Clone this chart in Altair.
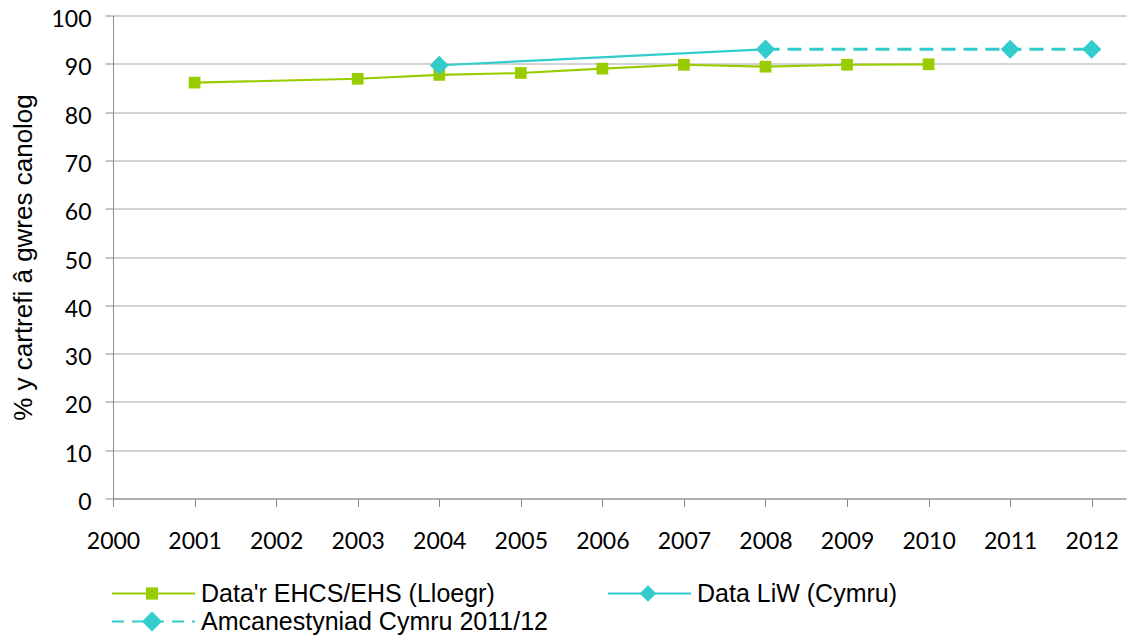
import altair as alt
import pandas as pd

# ---- data ----
years_ehs = [2001, 2003, 2004, 2005, 2006, 2007, 2008, 2009, 2010]
vals_ehs = [86.1, 86.9, 87.7, 88.1, 89.0, 89.8, 89.4, 89.8, 89.9]
years_liw = [2004, 2008]
vals_liw = [89.7, 93.0]
years_proj = [2008, 2011, 2012]
vals_proj = [93.0, 93.0, 93.0]
x_ticks = list(range(2000, 2013))
y_ticks = list(range(0, 101, 10))
series_names = ["Data'r EHCS/EHS (Lloegr)", "Data LiW (Cymru)", "Amcanestyniad Cymru 2011/12"]
y_title = "% y cartrefi â gwres canolog"

GREEN = "#99CC00"
CYAN = "#33CCCC"
W, H = 1013, 483

df_ehs = pd.DataFrame({"year": years_ehs, "value": vals_ehs})
df_liw = pd.DataFrame({"year": years_liw, "value": vals_liw})
df_proj = pd.DataFrame({"year": years_proj, "value": vals_proj})
df_leg = pd.DataFrame({"label": series_names})

xenc = alt.X("year:Q",
             scale=alt.Scale(domain=[2000, 2012.42], nice=False, zero=False),
             axis=alt.Axis(values=x_ticks, format="d", title=None, grid=False,
                           labelFlush=False, labelOverlap=False,
                           tickSize=8, tickColor="#8C8C8C", domainColor="#8C8C8C",
                           labelFont="Lato", labelFontSize=23, labelColor="#000000",
                           labelPadding=24))
yenc = alt.Y("value:Q",
             scale=alt.Scale(domain=[0, 100], nice=False),
             axis=alt.Axis(values=y_ticks, title=y_title, grid=True, gridColor="#A6A6A6",
                           tickSize=8, tickColor="#8C8C8C", domainColor="#8C8C8C",
                           labelFont="Lato", labelFontSize=23, labelColor="#000000",
                           labelPadding=14, labelOffset=4,
                           titleFont="Liberation Sans", titleFontSize=26,
                           titleFontWeight="normal", titleColor="#000000",
                           titleX=-90, titleBaseline="middle"))

line_ehs = alt.Chart(df_ehs).mark_line(color=GREEN, strokeWidth=2.2).encode(x=xenc, y=yenc)
line_liw = alt.Chart(df_liw).mark_line(color=CYAN, strokeWidth=2.2).encode(x=xenc, y=yenc)
line_proj = alt.Chart(df_proj).mark_line(color=CYAN, strokeWidth=3, strokeDash=[14, 8]).encode(x=xenc, y=yenc)
pts_ehs = alt.Chart(df_ehs).mark_point(shape="square", filled=True, size=137, color=GREEN, opacity=1).encode(x=xenc, y=yenc)
pts_liw = alt.Chart(df_liw).mark_point(shape="diamond", filled=True, size=361, color=CYAN, opacity=1).encode(x=xenc, y=yenc)
pts_proj = alt.Chart(df_proj).mark_point(shape="diamond", filled=True, size=361, color=CYAN, opacity=1).encode(x=xenc, y=yenc)

main = alt.layer(line_ehs, line_liw, line_proj, pts_ehs, pts_liw, pts_proj)

# ---- legend (drawn below the plot with its own pixel scales) ----
leg_base = alt.Chart(df_leg).transform_window(
    idx="row_number()"
).transform_calculate(
    col="(datum.idx - 1) % 2",
    row="floor((datum.idx - 1) / 2)",
).transform_calculate(
    lx0="datum.col * 496 - 1",
    ly="578 + datum.row * 28",
).transform_calculate(
    lx1="datum.lx0 + 83",
    lxm="datum.lx0 + 40",
    ltx="datum.lx0 + 89",
)
px_x = alt.Scale(domain=[0, W], range=[0, W], nice=False, zero=False)
px_y = alt.Scale(domain=[0, H], range=[0, H], nice=False, zero=False)
col_scale = alt.Scale(domain=series_names, range=[GREEN, CYAN, CYAN])

leg_rule = leg_base.mark_rule(strokeWidth=2.2).encode(
    x=alt.X("lx0:Q", scale=px_x, axis=None),
    x2="lx1:Q",
    y=alt.Y("ly:Q", scale=px_y, axis=None),
    color=alt.Color("label:N", scale=col_scale, legend=None),
    strokeDash=alt.StrokeDash("label:N", scale=alt.Scale(domain=series_names,
                              range=[[200, 0], [200, 0], [12, 8]]), legend=None),
)
leg_pts = leg_base.mark_point(filled=True, opacity=1).encode(
    x=alt.X("lxm:Q", scale=px_x, axis=None),
    y=alt.Y("ly:Q", scale=px_y, axis=None),
    color=alt.Color("label:N", scale=col_scale, legend=None),
    shape=alt.Shape("label:N", scale=alt.Scale(domain=series_names,
                    range=["square", "diamond", "diamond"]), legend=None),
    size=alt.Size("label:N", scale=alt.Scale(domain=series_names,
                  range=[150, 400, 400]), legend=None),
)
leg_txt = leg_base.mark_text(align="left", baseline="middle", dy=0.5,
                             font="Liberation Sans", fontSize=25, color="#000000").encode(
    x=alt.X("ltx:Q", scale=px_x, axis=None),
    y=alt.Y("ly:Q", scale=px_y, axis=None),
    text="label:N",
)
legend = alt.layer(leg_rule, leg_pts, leg_txt)

chart = alt.layer(main, legend).resolve_scale(
    x="independent", y="independent"
).properties(
    width=W, height=H,
    autosize=alt.AutoSizeParams(type="none"),
    padding={"left": 105, "top": 7.5, "right": 1, "bottom": 136.5},
).configure_view(stroke=None)

chart.save("out.html", embed_options={"renderer": "svg", "actions": False})
